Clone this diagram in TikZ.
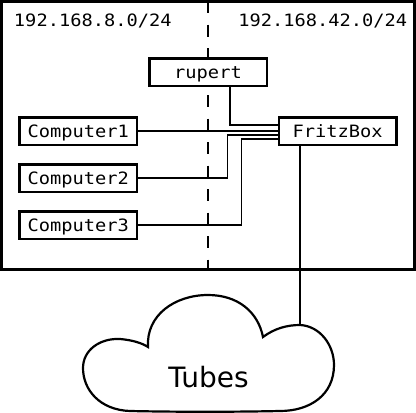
\documentclass[tikz,border=0pt]{standalone}
\usepackage{fontspec}
\newfontfamily\netmono[FakeStretch=1.1]{DejaVu Sans Mono}
\newfontfamily\cloudfont{DejaVu Sans}
\begin{document}
\begin{tikzpicture}[x=1pt,y=-1pt,
  netbox/.style={draw, line width=2.5pt, fill=white, minimum width=117.5pt,
    minimum height=27.5pt, inner sep=0pt,
    font=\netmono\fontsize{17}{20}\selectfont, text height=12.4pt, text depth=0pt},
  netlabel/.style={anchor=base, inner sep=0pt, font=\netmono\fontsize{17}{20}\selectfont},
  wire/.style={line width=1.3pt},
  frame/.style={line width=3pt},
  divider/.style={line width=2.4pt, dash pattern=on 12pt off 11.5pt},
  cloudline/.style={line width=2.2pt}]
\useasboundingbox (0,0) rectangle (416,413);
% frame and divider
\draw[frame] (1.5,1.5) rectangle (414,269);
\coordinate (dtop) at (208,1);
\coordinate (dbot) at (208,269);
\draw[divider] (dtop) -- (dbot);
% subnet labels
\node[netlabel] (netL) at (92.8,26.5) {192.168.8.0/24};
\node[netlabel] (netR) at (322.7,26.5) {192.168.42.0/24};
% boxes
\node[netbox] (rupert) at (208,72) {rupert};
\node[netbox] (c1) at (78.3,131) {Computer1};
\node[netbox] (c2) at (78.3,178) {Computer2};
\node[netbox] (c3) at (78.3,225) {Computer3};
\node[netbox] (fritz) at (337.7,131) {FritzBox};
% wires
\draw[wire] ([xshift=22pt]rupert.south) |- ([yshift=6pt]fritz.west);
\draw[wire] (c1.east) -- (fritz.west);
\draw[wire] (c2.east) -| ([xshift=-50pt,yshift=-4pt]fritz.west) -- ([yshift=-4pt]fritz.west);
\draw[wire] (c3.east) -| ([xshift=-36.5pt,yshift=-8pt]fritz.west) -- ([yshift=-8pt]fritz.west);
% cloud
\coordinate (cloudtop) at (300,325);
\draw[cloudline, fill=white] (148,347)
  .. controls (146,315) and (175,295) .. (208,295)
  .. controls (238,295) and (258,312) .. (263,337)
  .. controls (275,328) and (288,325) .. (cloudtop)
  .. controls (320,326) and (334,345) .. (334,365)
  .. controls (334,395) and (310,411) .. (280,411)
  .. controls (235,412) and (175,412) .. (130,411)
  .. controls (100,410) and (83,390) .. (83,368)
  .. controls (83,350) and (100,338) .. (120,339)
  .. controls (132,340) and (142,343) .. (148,347) -- cycle;
\node[anchor=base, inner sep=0pt, font=\cloudfont\fontsize{28}{32}\selectfont] (tubes) at (208.5,387.3) {Tubes};
\draw[wire] (fritz.south -| cloudtop) -- (cloudtop);
\end{tikzpicture}
\end{document}
